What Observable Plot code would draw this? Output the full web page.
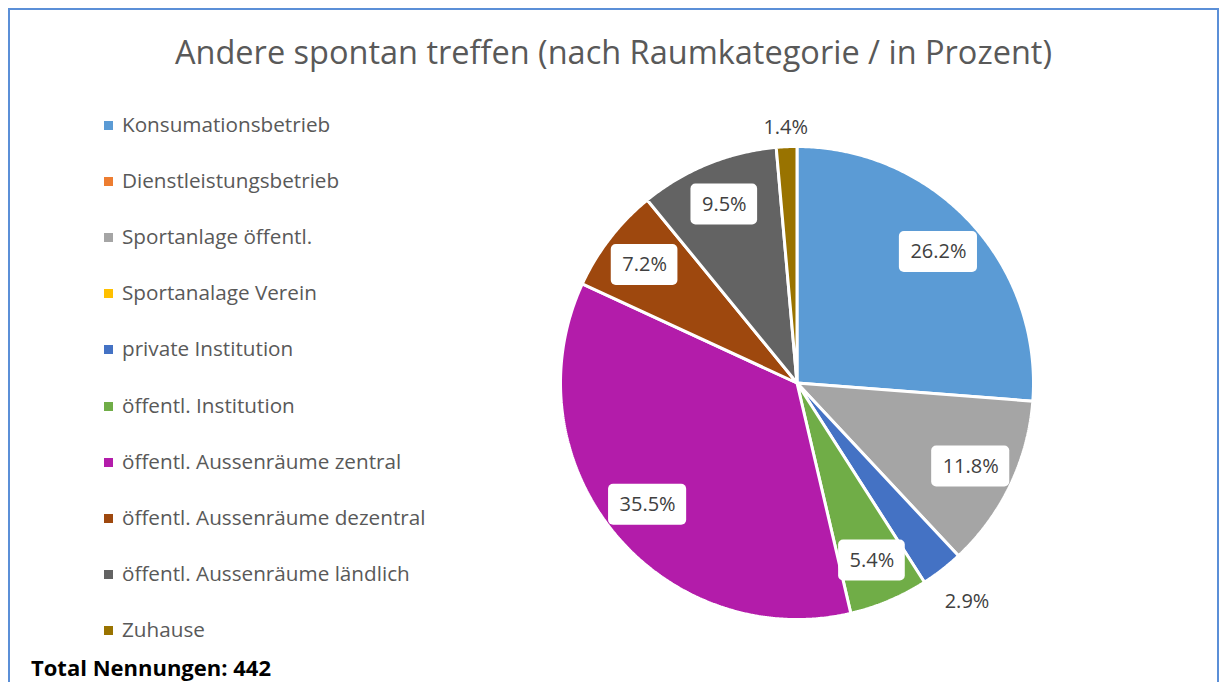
<!DOCTYPE html>
<html><head><meta charset="utf-8">
<script src="https://cdn.jsdelivr.net/npm/d3@7"></script>
<script src="https://cdn.jsdelivr.net/npm/@observablehq/plot@0.6"></script>
<style>
html,body{margin:0;padding:0;background:#fff;overflow:hidden;width:1219px;height:682px;}
#frame{position:absolute;left:8px;top:8px;width:1207px;height:700px;border:2px solid #5b8fd7;}
#chart{position:absolute;left:0;top:0;}
#title{position:absolute;left:10px;width:1207px;top:35.5px;text-align:center;font-family:"Open Sans";font-size:32.5px;line-height:1;color:#595959;white-space:nowrap;}
.sw{position:absolute;left:104px;width:9px;height:9px;}
.lt{position:absolute;left:122px;font-family:"Open Sans";font-size:20.7px;line-height:1;color:#595959;white-space:nowrap;}
#total{position:absolute;left:31px;top:656px;font-family:"Open Sans";font-weight:bold;font-size:22px;line-height:1;color:#000;white-space:nowrap;}
</style>
</head><body>
<div id="frame"></div>
<div id="chart"></div>
<div id="title"></div>
<div id="legend"></div>
<div id="total"></div>
<script>
const titleText = "Andere spontan treffen (nach Raumkategorie / in Prozent)";
const totalText = "Total Nennungen: 442";
const categories = ["Konsumationsbetrieb","Dienstleistungsbetrieb","Sportanlage öffentl.","Sportanalage Verein","private Institution","öffentl. Institution","öffentl. Aussenräume zentral","öffentl. Aussenräume dezentral","öffentl. Aussenräume ländlich","Zuhause"];
const values = [26.2, 0, 11.8, 0, 2.9, 5.4, 35.5, 7.2, 9.5, 1.4];
const colors = ["#5b9bd5","#ed7d31","#a5a5a5","#ffc000","#4472c4","#70ad47","#b31caa","#9e480e","#636363","#997300"];

document.getElementById("title").textContent = titleText;
document.getElementById("total").textContent = totalText;

// legend
const leg = document.getElementById("legend");
categories.forEach((c, i) => {
  const yc = 125 + 56.2 * i;
  const sw = document.createElement("div");
  sw.className = "sw"; sw.style.top = (yc - 4.5) + "px"; sw.style.background = colors[i];
  const t = document.createElement("div");
  t.className = "lt"; t.style.top = (yc - 11.4) + "px"; t.textContent = c;
  leg.appendChild(sw); leg.appendChild(t);
});

// pie geometry
const W = 1219, H = 682, cx = 796.5, cy = 382.5, R = 236.5;
const total = d3.sum(values);
const slices = [];
let acc = 0;
categories.forEach((c, i) => {
  const a0 = acc / total * 2 * Math.PI;
  acc += values[i];
  const a1 = acc / total * 2 * Math.PI;
  slices.push({c, v: values[i], a0, a1});
});
const pts = [];
slices.filter(s => s.v > 0).forEach(s => {
  pts.push({c: s.c, x: 0, y: 0});
  const n = Math.max(2, Math.ceil((s.a1 - s.a0) / (Math.PI / 360)));
  for (let j = 0; j <= n; j++) {
    const a = s.a0 + (s.a1 - s.a0) * j / n;
    pts.push({c: s.c, x: Math.sin(a), y: Math.cos(a)});
  }
  pts.push({c: s.c, x: 0, y: 0});
});

const fontSize = 20;
const ctx = document.createElement("canvas").getContext("2d");
ctx.font = fontSize + "px 'Open Sans'";
const labels = slices.filter(s => s.v > 0).map(s => {
  const txt = s.v.toFixed(1) + "%";
  const tw = ctx.measureText(txt).width;
  const bw = tw + 22, bh = 41;
  const m = (s.a0 + s.a1) / 2;
  const dx = Math.sin(m), dy = Math.cos(m);
  const outside = s.v < 3;
  let d;
  if (outside) {
    const ext = Math.abs(dx) * (tw / 2 + 20) + Math.abs(dy) * 11;
    d = 1 + (6 + ext) / R;
  } else {
    d = 0.815;
  }
  const x = dx * d, y = dy * d;
  return {txt, x, y, outside,
    x1: x - bw / 2 / R, x2: x + bw / 2 / R, y1: y - bh / 2 / R, y2: y + bh / 2 / R};
});

const plot = Plot.plot({
  width: W, height: H,
  marginLeft: cx - R, marginRight: W - (cx + R),
  marginTop: cy - R, marginBottom: H - (cy + R),
  x: {domain: [-1, 1], axis: null},
  y: {domain: [-1, 1], axis: null},
  color: {domain: categories, range: colors},
  style: {background: "transparent", fontFamily: "Open Sans"},
  marks: [
    Plot.line(pts, {x: "x", y: "y", z: "c", fill: "c", stroke: "white", strokeWidth: 3, strokeLinejoin: "miter"}),
    Plot.rect(labels.filter(d => !d.outside), {x1: "x1", x2: "x2", y1: "y1", y2: "y2", fill: "white", rx: 5}),
    Plot.text(labels, {x: "x", y: "y", text: "txt", fontSize: fontSize, fill: "#404040"})
  ]
});
document.getElementById("chart").appendChild(plot);
</script>
</body></html>
